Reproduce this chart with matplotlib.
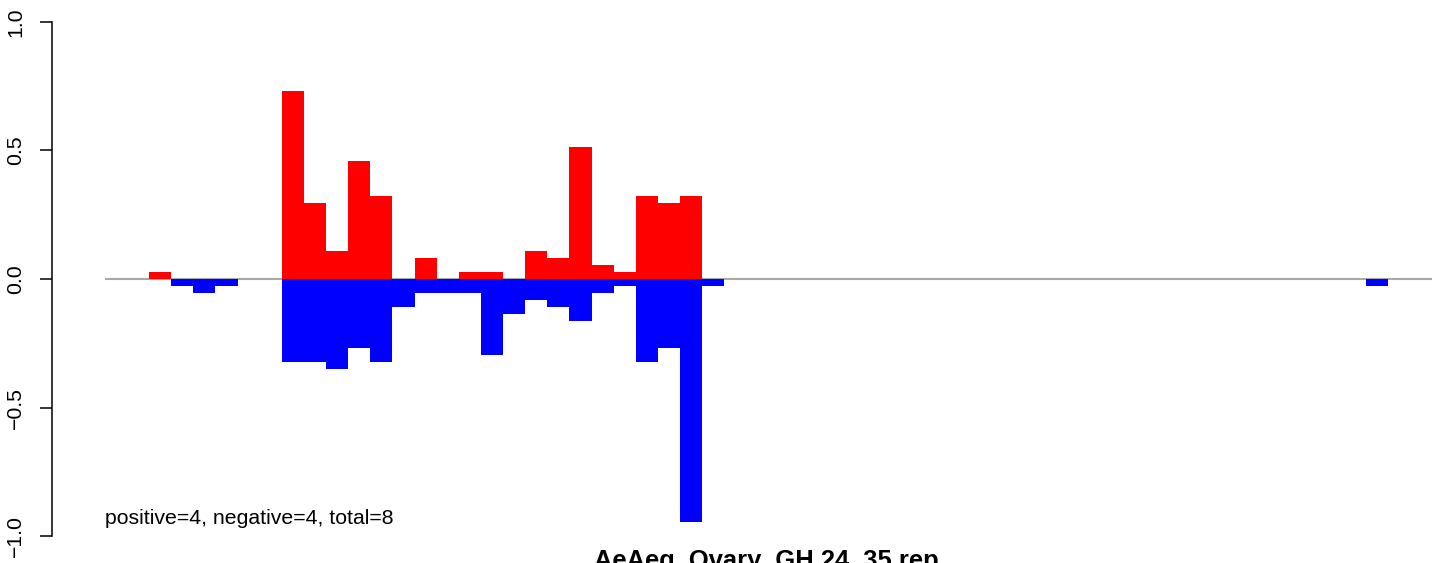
import matplotlib
matplotlib.use("Agg")
import matplotlib.pyplot as plt

plt.rcParams["font.family"] = ["Liberation Sans", "DejaVu Sans"]

# bins 0..59 along the x axis; only non-empty bins are listed
n_bins = 60
pos_bins = [2, 8, 9, 10, 11, 12, 14, 16, 17, 19, 20, 21, 22, 23, 24, 25, 26]
pos_vals = [0.027, 0.730, 0.297, 0.108, 0.459, 0.324, 0.081, 0.027, 0.027,
            0.108, 0.081, 0.514, 0.054, 0.027, 0.324, 0.297, 0.324]
neg_bins = [3, 4, 5, 8, 9, 10, 11, 12, 13, 14, 15, 16, 17, 18, 19, 20, 21,
            22, 23, 24, 25, 26, 27, 57]
neg_vals = [0.027, 0.054, 0.027, 0.324, 0.324, 0.351, 0.270, 0.324, 0.108,
            0.054, 0.054, 0.054, 0.297, 0.135, 0.081, 0.108, 0.162, 0.054,
            0.027, 0.324, 0.270, 0.946, 0.027, 0.027]
yticks = [-1.0, -0.5, 0.0, 0.5, 1.0]
note = "positive=4, negative=4, total=8"
title = "AeAeg_Ovary_GH 24_35 rep"

W, H, DPI = 1444, 563, 100
fig = plt.figure(figsize=(W / DPI, H / DPI), dpi=DPI)
# R-style plot region (4% padding on each side); it runs past the right edge
left_px, right_px = 51.7, 1485.3
top_px, bot_px = 1.4, 556.6
ax = fig.add_axes([left_px / W, (H - bot_px) / H,
                   (right_px - left_px) / W, (bot_px - top_px) / H])
ax.set_xlim(-0.04 * n_bins, n_bins * 1.04)
ax.set_ylim(-1.08, 1.08)

ax.hlines(0, 0, n_bins, color="#A9A9A9", lw=1.5, zorder=1)
ax.bar(pos_bins, pos_vals, width=1, align="edge", color="#FF0000", lw=0, zorder=2)
ax.bar(neg_bins, [-v for v in neg_vals], width=1, align="edge", color="#0000FF",
       lw=0, zorder=2)

for s in ["top", "right", "bottom"]:
    ax.spines[s].set_visible(False)
ax.spines["left"].set_bounds(-1, 1)
ax.spines["left"].set_linewidth(1.1)
ax.set_xticks([])
ax.set_yticks(yticks)
ax.set_yticklabels([f"{t:.1f}".replace("-", "\u2212") for t in yticks])
ax.tick_params(axis="y", length=9, width=1.1, pad=10, labelsize=15.3,
               labelrotation=90)
for lab in ax.get_yticklabels():
    lab.set_va("center")

ax.text(0, -0.955, note, fontsize=15.3, ha="left", va="baseline")
fig.text(766 / W, (H - 568) / H, title, fontsize=18.4, fontweight="bold",
         ha="center", va="baseline")

fig.savefig("out.png", dpi=DPI)
